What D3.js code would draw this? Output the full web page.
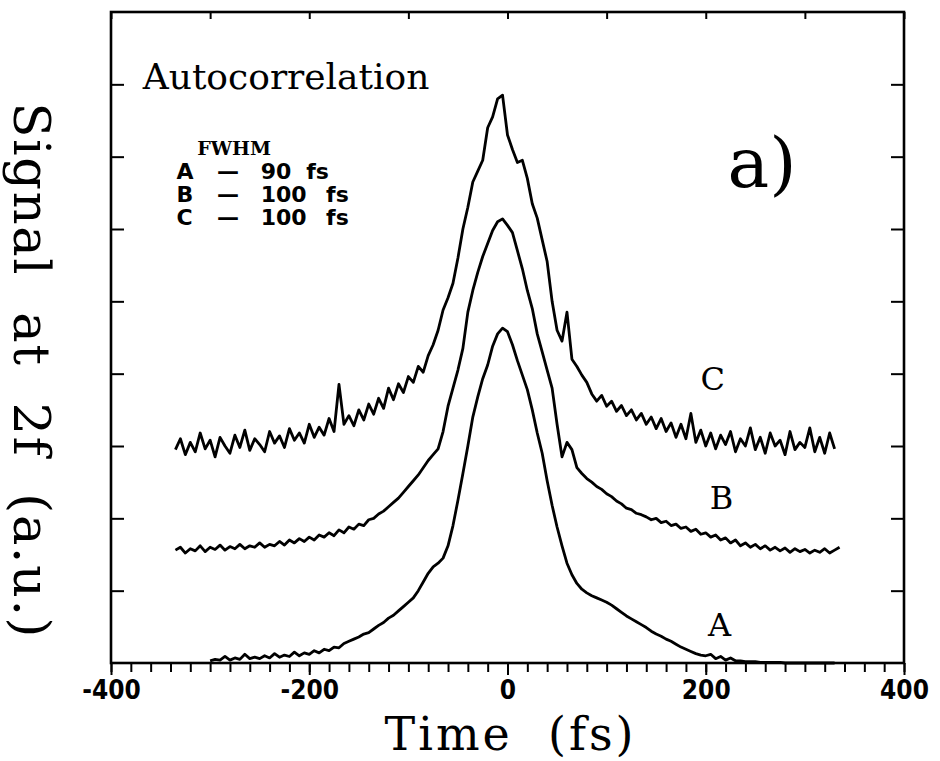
<!DOCTYPE html>
<html>
<head>
<meta charset="utf-8">
<script src="https://cdn.jsdelivr.net/npm/d3@7"></script>
<style>
  body { margin: 0; background: #fff; }
  svg { display: block; }
</style>
</head>
<body>
<div id="chart"></div>
<script>
// sampling of each trace (fs)
var stepFs = 5;
var startA = -300, startB = -335, startC = -335;

// trace A (bottom), signal in a.u.
var traceA = [
  0.03, 0.05, 0.04, 0.09, 0.04, 0.07, 0.05, 0.12, 0.06, 0.08,
  0.06, 0.10, 0.07, 0.13, 0.08, 0.11, 0.09, 0.15, 0.10, 0.14,
  0.12, 0.17, 0.14, 0.19, 0.17, 0.22, 0.21, 0.27, 0.30, 0.33,
  0.36, 0.40, 0.42, 0.47, 0.52, 0.56, 0.62, 0.66, 0.72, 0.78,
  0.84, 0.90, 1.00, 1.12, 1.24, 1.33, 1.38, 1.45, 1.62, 1.90,
  2.25, 2.62, 3.00, 3.40, 3.68, 3.93, 4.12, 4.38, 4.55, 4.63,
  4.58, 4.40, 4.18, 3.98, 3.78, 3.50, 3.18, 2.90, 2.52, 2.18,
  1.88, 1.62, 1.38, 1.22, 1.10, 1.02, 0.97, 0.93, 0.90, 0.87,
  0.84, 0.80, 0.75, 0.70, 0.65, 0.61, 0.57, 0.53, 0.49, 0.44,
  0.40, 0.37, 0.33, 0.30, 0.26, 0.22, 0.19, 0.16, 0.13, 0.11,
  0.10, 0.12, 0.06, 0.09, 0.04, 0.07, 0.03, 0.03, 0.02, 0.02,
  0.02, 0.01, 0.01, 0.01, 0.01, 0.01, 0.00, 0.00, 0.00, 0.00,
  0.00, 0.00, 0.00, 0.00, 0.00, 0.00, 0.00
];

// trace B (middle)
var traceB = [
  1.56, 1.60, 1.52, 1.58, 1.55, 1.62, 1.54, 1.60, 1.57, 1.63,
  1.56, 1.61, 1.58, 1.64, 1.58, 1.62, 1.60, 1.66, 1.60, 1.64,
  1.62, 1.68, 1.63, 1.70, 1.66, 1.72, 1.68, 1.74, 1.70, 1.77,
  1.74, 1.80, 1.76, 1.84, 1.80, 1.88, 1.85, 1.92, 1.90, 1.98,
  2.00, 2.06, 2.10, 2.16, 2.22, 2.28, 2.36, 2.44, 2.52, 2.60,
  2.70, 2.80, 2.88, 2.96, 3.20, 3.55, 3.80, 4.05, 4.35, 4.85,
  5.15, 5.40, 5.62, 5.80, 5.98, 6.10, 6.14, 6.05, 5.95, 5.70,
  5.45, 5.15, 4.90, 4.55, 4.30, 4.05, 3.80, 3.30, 2.85, 3.05,
  2.95, 2.70, 2.62, 2.55, 2.50, 2.44, 2.40, 2.34, 2.30, 2.24,
  2.20, 2.14, 2.12, 2.07, 2.05, 2.02, 1.98, 2.00, 1.94, 1.96,
  1.90, 1.92, 1.86, 1.88, 1.82, 1.85, 1.78, 1.80, 1.74, 1.77,
  1.70, 1.73, 1.66, 1.70, 1.62, 1.66, 1.60, 1.64, 1.58, 1.62,
  1.56, 1.60, 1.55, 1.59, 1.53, 1.58, 1.54, 1.57, 1.52, 1.56,
  1.53, 1.58, 1.52, 1.56, 1.60
];

// trace C (top)
var traceC = [
  2.95, 3.10, 2.88, 3.05, 2.92, 3.18, 2.96, 3.08, 2.85, 3.12,
  3.00, 2.90, 3.15, 2.98, 3.22, 2.94, 3.10, 3.02, 2.92, 3.20,
  3.04, 3.14, 2.98, 3.24, 3.08, 3.18, 3.04, 3.30, 3.12, 3.26,
  3.15, 3.38, 3.20, 3.85, 3.30, 3.42, 3.28, 3.50, 3.36, 3.58,
  3.44, 3.66, 3.52, 3.80, 3.64, 3.86, 3.74, 3.96, 3.88, 4.10,
  4.02, 4.25, 4.40, 4.60, 4.88, 5.05, 5.25, 5.60, 6.00, 6.30,
  6.65, 6.80, 6.95, 7.40, 7.55, 7.80, 7.85, 7.30, 7.10, 6.92,
  6.95, 6.70, 6.35, 6.15, 5.85, 5.55, 5.00, 4.60, 4.45, 4.85,
  4.20, 4.10, 3.98, 3.88, 3.72, 3.62, 3.70, 3.55, 3.62, 3.48,
  3.56, 3.42, 3.50, 3.36, 3.45, 3.30, 3.40, 3.24, 3.38, 3.20,
  3.32, 3.12, 3.30, 3.10, 3.45, 3.05, 3.22, 3.00, 3.18, 2.96,
  3.15, 3.02, 3.20, 2.92, 3.10, 3.00, 3.25, 2.95, 3.12, 2.90,
  3.18, 3.00, 3.08, 2.88, 3.20, 2.95, 3.05, 2.98, 3.25, 2.92,
  3.12, 2.90, 3.18, 2.96
];

var xTicks = [-400, -200, 0, 200, 400];
var traceLabels = ['A', 'B', 'C'];
var legendRows = [['A', '90'], ['B', '100'], ['C', '100']];

var width = 940, height = 761;
var margin = { left: 111, right: 36, top: 12, bottom: 98 };
var w = width - margin.left - margin.right;
var h = height - margin.top - margin.bottom;

var svg = d3.select('#chart').append('svg')
    .attr('width', width)
    .attr('height', height);

var g = svg.append('g')
    .attr('transform', 'translate(' + margin.left + ',' + margin.top + ')');

var x = d3.scaleLinear().domain([-400, 400]).range([0, w]);
var y = d3.scaleLinear().domain([0, 9]).range([h, 0]);

function toPoints(vals, start) {
    return vals.map(function(v, i) { return { t: start + i * stepFs, v: v }; });
}

var line = d3.line()
    .x(function(d) { return x(d.t); })
    .y(function(d) { return y(d.v); });

// traces
[[traceA, startA], [traceB, startB], [traceC, startC]].forEach(function(tr) {
    g.append('path')
        .datum(toPoints(tr[0], tr[1]))
        .attr('fill', 'none')
        .attr('stroke', '#000')
        .attr('stroke-width', 2.8)
        .attr('stroke-linejoin', 'round')
        .attr('d', line);
});

// bottom axis: minor ticks every 20 fs, labels every 200
var xAxis = g.append('g')
    .attr('transform', 'translate(0,' + h + ')');
xAxis.call(d3.axisBottom(x).tickValues(d3.range(-400, 401, 20)).tickSize(9).tickFormat(''));
xAxis.call(function(s) {
    s.select('.domain').remove();
    s.selectAll('line').attr('stroke', '#000').attr('stroke-width', 2);
});
var xMajor = g.append('g')
    .attr('transform', 'translate(0,' + h + ')')
    .call(d3.axisBottom(x).tickValues(xTicks).tickSize(12).tickPadding(6)
        .tickFormat(function(d) { return d < 0 ? '-' + Math.abs(d) : d; }));
xMajor.select('.domain').remove();
xMajor.selectAll('line').attr('stroke', '#000').attr('stroke-width', 2);
xMajor.selectAll('text')
    .attr('fill', '#000')
    .style('font-family', 'DejaVu Sans Condensed, DejaVu Sans')
    .style('font-weight', 'bold')
    .style('font-size', '26px');

// top ticks (inward)
var xTop = g.append('g')
    .call(d3.axisTop(x).tickValues(d3.range(-400, 401, 100)).tickSize(-7).tickFormat(''));
xTop.select('.domain').remove();
xTop.selectAll('line').attr('stroke', '#000').attr('stroke-width', 2);

// left and right ticks (inward)
var yLeft = g.append('g')
    .call(d3.axisLeft(y).tickValues(d3.range(1, 9)).tickSize(-13).tickFormat(''));
yLeft.select('.domain').remove();
yLeft.selectAll('line').attr('stroke', '#000').attr('stroke-width', 2);

var yRight = g.append('g')
    .attr('transform', 'translate(' + w + ',0)')
    .call(d3.axisRight(y).tickValues(d3.range(1, 9)).tickSize(-13).tickFormat(''));
yRight.select('.domain').remove();
yRight.selectAll('line').attr('stroke', '#000').attr('stroke-width', 2);

// frame
g.append('rect')
    .attr('x', 0).attr('y', 0)
    .attr('width', w).attr('height', h)
    .attr('fill', 'none')
    .attr('stroke', '#000')
    .attr('stroke-width', 2.6);

// axis titles
svg.append('text')
    .attr('x', margin.left + w / 2 + 3)
    .attr('y', 750)
    .attr('text-anchor', 'middle')
    .style('font-family', 'DejaVu Serif')
    .style('font-size', '46px')
    .style('letter-spacing', '3px')
    .text('Time\u00a0\u00a0(fs)');

svg.append('text')
    .attr('transform', 'translate(14,370) rotate(90)')
    .attr('text-anchor', 'middle')
    .attr('textLength', 535)
    .attr('lengthAdjust', 'spacing')
    .style('font-family', 'DejaVu Serif')
    .style('font-size', '51px')
    .text('Signal\u00a0\u00a0at\u00a0\u00a02f\u00a0\u00a0(a.u.)');

// annotations
g.append('text')
    .attr('x', x(-368))
    .attr('y', y(7.93))
    .style('font-family', 'DejaVu Serif')
    .style('font-size', '36px')
    .text('Autocorrelation');

g.append('text')
    .attr('x', x(-313))
    .attr('y', y(7.02))
    .style('font-family', 'DejaVu Serif')
    .style('font-weight', 'bold')
    .style('font-size', '19px')
    .text('FWHM');

legendRows.forEach(function(r, i) {
    var yy = y(6.69 - i * 0.315);
    var t = g.append('text')
        .attr('y', yy)
        .style('font-family', 'DejaVu Sans')
        .style('font-weight', 'bold')
        .style('font-size', '22px');
    t.append('tspan').attr('x', x(-334)).text(r[0]);
    t.append('tspan').attr('x', x(-293)).text('\u2014');
    t.append('tspan').attr('x', x(-249)).text(r[1]);
    t.append('tspan').attr('x', x(r[1].length === 2 ? -203 : -183)).text('fs');
});

g.append('text')
    .attr('x', x(222))
    .attr('y', y(6.58))
    .style('font-family', 'DejaVu Serif')
    .style('font-size', '70px')
    .text('a)');

var labelPos = [[214, 0.38], [216, 2.13], [207, 3.78]];
traceLabels.forEach(function(l, i) {
    g.append('text')
        .attr('x', x(labelPos[i][0]))
        .attr('y', y(labelPos[i][1]))
        .attr('text-anchor', 'middle')
        .style('font-family', 'DejaVu Serif')
        .style('font-size', '32px')
        .text(l);
});
</script>
</body>
</html>
